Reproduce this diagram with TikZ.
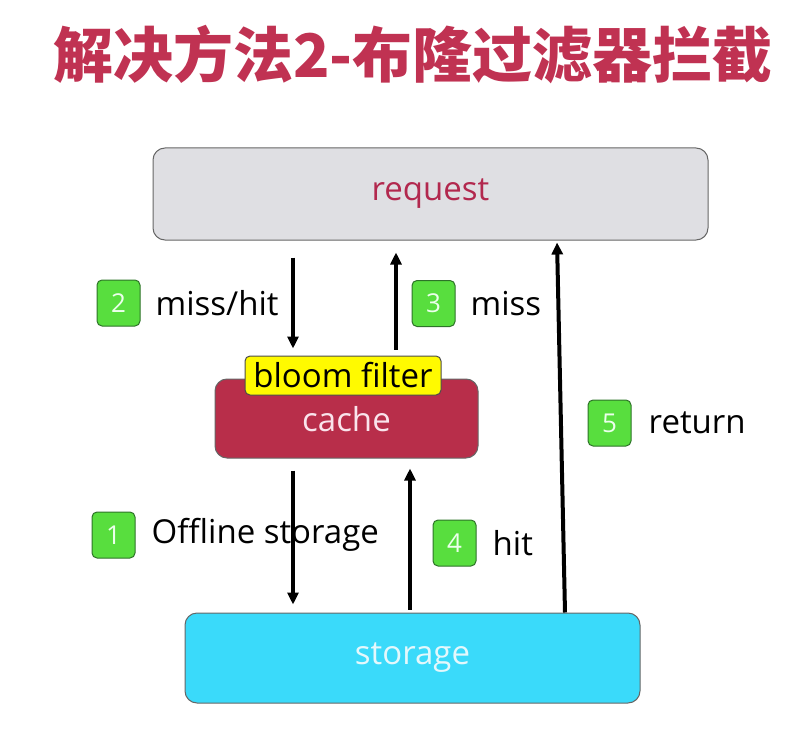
\documentclass[tikz,border=0pt]{standalone}
\usepackage{fontspec}
\setmainfont{Open Sans}
\newfontfamily\cjk{Noto Sans CJK SC}
\usetikzlibrary{positioning, calc, arrows.meta}

\definecolor{titlered}{RGB}{192,50,82}
\definecolor{reqgray}{RGB}{223,223,227}
\definecolor{reqtext}{RGB}{178,40,78}
\definecolor{cachered}{RGB}{184,46,74}
\definecolor{cachetext}{RGB}{250,228,236}
\definecolor{bloomyellow}{RGB}{255,250,0}
\definecolor{storecyan}{RGB}{58,218,250}
\definecolor{storetext}{RGB}{228,248,252}
\definecolor{badgegreen}{RGB}{88,222,62}
\definecolor{badgeedge}{RGB}{45,115,40}

\tikzset{
  box/.style={draw=black!60, line width=1pt, rounded corners=12pt, inner sep=0pt, font=\fontsize{33}{36}\selectfont},
  badge/.style={draw=badgeedge, fill=badgegreen, line width=1pt, rounded corners=5pt, minimum width=43pt, minimum height=46pt, inner sep=0pt, text=white!92!green, font=\fontsize{26}{28}\selectfont},
  lbl/.style={inner sep=0pt, anchor=west, font=\fontsize{33}{36}\selectfont},
  steparrow/.style={draw=black, line width=4pt, -{Triangle[length=12pt,width=11pt]}}
}

\begin{document}
\begin{tikzpicture}[x=1pt, y=-1pt]
\useasboundingbox (0,0) rectangle (803,730);

\node[text=titlered, font=\cjk\bfseries\fontsize{60}{62}\selectfont] (title) at (413,55) {解决方法2-布隆过滤器拦截};

% boxes
\node[box, fill=reqgray, text=reqtext, minimum width=555pt, minimum height=92pt] (request) at (430.5,194) {request};
\node[box, fill=cachered, text=cachetext, minimum width=263pt, minimum height=79pt, text depth=-14pt] (cache) at (346.5,418.5) {cache};
\node[box, draw=black!70, fill=bloomyellow, rounded corners=5pt, minimum width=196pt, minimum height=39pt] (bloom) at (343,375.5) {bloom filter};
\node[box, fill=storecyan, text=storetext, minimum width=455pt, minimum height=90pt] (storage) at (412.5,658) {storage};

% steps
\node[badge] (b2) at (118.5,303) {2};
\node[lbl, right=15pt of b2] (l2) {miss/hit};
\node[badge] (b3) at (433.5,303.5) {3};
\node[lbl, right=15pt of b3] (l3) {miss};
\node[badge] (b1) at (113.5,535) {1};
\node[lbl, right=16pt of b1] (l1) {Offline storage};
\node[badge] (b4) at (454.5,543) {4};
\node[lbl, right=16pt of b4] (l4) {hit};
\node[badge] (b5) at (609.5,423) {5};
\node[lbl, right=17pt of b5] (l5) {return};

% arrows
\coordinate (xa) at (293,0);
\coordinate (xb) at (396,0);
\coordinate (xc) at (410,0);
\draw[steparrow, shorten <=17pt, shorten >=7pt] (request.south -| xa) -- (bloom.north -| xa);
\draw[steparrow, shorten <=6pt, shorten >=12pt] (bloom.north -| xb) -- (request.south -| xb);
\draw[steparrow, shorten <=12pt, shorten >=8pt] (cache.south -| xa) -- (storage.north -| xa);
\draw[steparrow, shorten <=3pt, shorten >=10pt] (storage.north -| xc) -- (cache.south -| xc);
\draw[steparrow, shorten >=2pt] ([xshift=152.5pt]storage.north) -- ([xshift=126.5pt]request.south);
\end{tikzpicture}
\end{document}
